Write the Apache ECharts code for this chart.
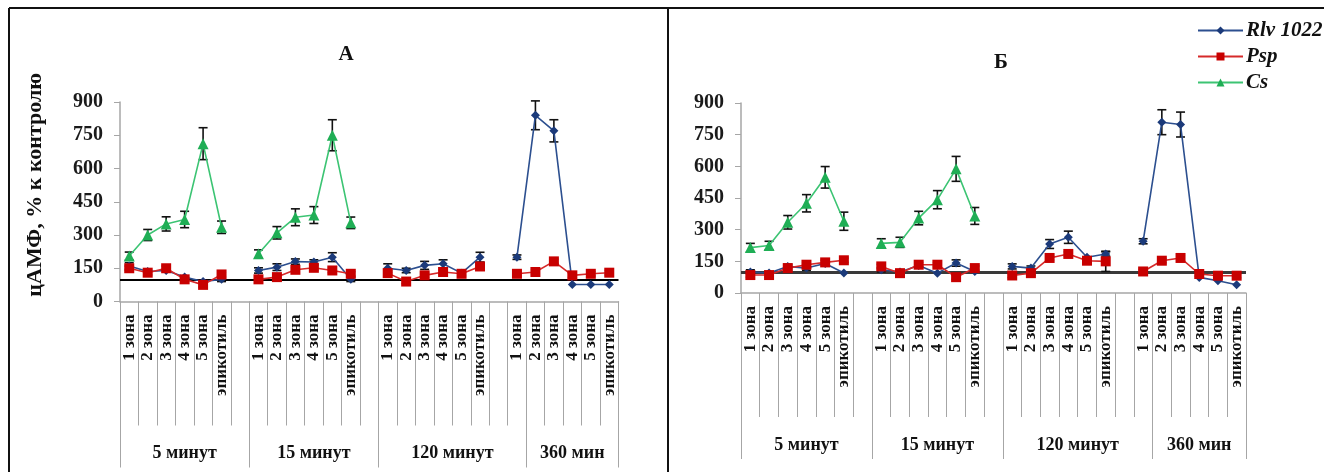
<!DOCTYPE html>
<html>
<head>
<meta charset="utf-8">
<script src="https://cdn.jsdelivr.net/npm/echarts@6/dist/echarts.min.js"></script>
<style>
html,body{margin:0;padding:0;background:#fff;}
#chart{width:1324px;height:472px;}
</style>
</head>
<body>
<div id="chart"></div>
<script>
// ---------- DATA ----------
const zones = ['1 зона', '2 зона', '3 зона', '4 зона', '5 зона', 'эпикотиль'];
const times = ['5 минут', '15 минут', '120 минут', '360 мин'];
const seriesNames = ['Rlv 1022', 'Psp', 'Cs'];
const panelTitles = ['А', 'Б'];
const yTicks = [0, 150, 300, 450, 600, 750, 900];
const control = 100;

// Panel А  (groups: 5 мин, 15 мин, 120 мин, 360 мин)
const rlvA = [[160, 135, 140, 110, 90, 100], [140, 155, 180, 178, 200, 100], [150, 140, 163, 170, 128, 200], [200, 840, 770, 77, 77, 77]];
const rlvAerr = [[15, 0, 0, 0, 0, 10], [12, 15, 12, 10, 20, 10], [20, 10, 18, 18, 0, 22], [10, 65, 50, 0, 0, 0]];
const pspA = [[150, 130, 150, 100, 75, 122], [100, 110, 143, 152, 140, 125], [128, 90, 118, 133, 125, 158], [125, 133, 181, 118, 125, 130]];
const pspAerr = [[10, 10, 10, 10, 10, 10], [10, 10, 10, 10, 10, 10], [10, 10, 10, 10, 10, 10], [10, 10, 10, 10, 10, 10]];
const csA = [[205, 300, 350, 370, 712, 335], [215, 310, 380, 390, 750, 355], [null, null, null, null, null, null], [null, null, null, null, null, null]];
const csAerr = [[18, 25, 32, 37, 72, 28], [18, 28, 38, 38, 70, 26], [0, 0, 0, 0, 0, 0], [0, 0, 0, 0, 0, 0]];

// Panel Б
const rlvB = [[100, 95, 126, 118, 140, 95], [110, 100, 130, 94, 142, 102], [126, 118, 232, 264, 169, 185], [245, 809, 798, 74, 58, 39]];
const rlvBerr = [[10, 0, 10, 10, 0, 0], [10, 0, 0, 0, 15, 0], [12, 10, 21, 29, 0, 10], [12, 59, 59, 0, 0, 0]];
const pspB = [[85, 85, 118, 134, 145, 155], [126, 94, 134, 134, 75, 118], [83, 94, 166, 185, 153, 150], [102, 153, 166, 90, 82, 82]];
const pspBerr = [[10, 10, 10, 10, 10, 10], [10, 10, 10, 10, 10, 10], [10, 10, 10, 10, 10, 48], [10, 10, 10, 10, 10, 10]];
const csB = [[215, 225, 335, 425, 548, 340], [235, 240, 355, 442, 588, 365], [null, null, null, null, null, null], [null, null, null, null, null, null]];
const csBerr = [[20, 20, 32, 41, 51, 43], [22, 24, 32, 43, 59, 40], [0, 0, 0, 0, 0, 0], [0, 0, 0, 0, 0, 0]];

// ---------- BUILD ----------
const FONT = "'Liberation Serif', 'Times New Roman', serif";
const GRAY = '#a6a6a6';
const colors = ['#1b3a7a', '#c80000', '#1fae55'];
const lineColors = ['#2c4f8f', '#d62a2a', '#3cc473'];
const symbols = ['diamond', 'rect', 'triangle'];
const symbolSizes = [9, 10, 11];

// group label spans (in slots) as laid out in the original multi-level axis
const groupSpans = [7, 7, 8, 5];

function flat(groups, filler) {
  const out = [];
  groups.forEach((g, gi) => {
    g.forEach(v => out.push(v));
    if (gi < groups.length - 1) out.push(filler);
  });
  return out;
}
const slotLabels = flat(times.map(() => zones), '');
const nSlots = slotLabels.length;

// group axis: half-slot points (boundaryGap false)
const halfPts = nSlots * 2 + 1;
const groupAxisData = new Array(halfPts).fill('');
const boundarySet = new Set([0]);
let acc = 0;
groupSpans.forEach((s, i) => {
  groupAxisData[acc * 2 + s] = times[i];
  acc += s;
  boundarySet.add(acc * 2);
});

const grids = [
  { left: 120, top: 102, width: 498.5, height: 199.5 },
  { left: 741, top: 103, width: 505, height: 190 }
];

const panels = [
  { vals: [rlvA, pspA, csA], errs: [rlvAerr, pspAerr, csAerr], ctrl: { color: '#000', width: 2 } },
  { vals: [rlvB, pspB, csB], errs: [rlvBerr, pspBerr, csBerr], ctrl: { color: '#3a3a3a', width: 3 } }
];

const xAxes = [], yAxes = [], series = [];
panels.forEach((p, pi) => {
  xAxes.push({
    type: 'category', gridIndex: pi, data: slotLabels, position: 'bottom', boundaryGap: true,
    axisLine: { show: true, lineStyle: { color: GRAY, width: 1.5 } },
    axisTick: { show: true, interval: 0, length: 124, lineStyle: { color: GRAY, width: 1 } },
    axisLabel: { interval: 0, rotate: 90, margin: 13, fontFamily: FONT, fontWeight: 'bold', fontSize: 17, color: '#111' },
    splitLine: { show: false }
  });
  xAxes.push({
    type: 'category', gridIndex: pi, data: groupAxisData, position: 'bottom', offset: 0, boundaryGap: false,
    axisLine: { show: false },
    axisTick: { show: true, interval: (i) => boundarySet.has(i), length: 166, lineStyle: { color: GRAY, width: 1 } },
    axisLabel: { interval: 0, margin: 143, fontFamily: FONT, fontWeight: 'bold', fontSize: 18, color: '#111' },
    splitLine: { show: false }
  });
  yAxes.push({
    type: 'value', gridIndex: pi, min: yTicks[0], max: yTicks[yTicks.length - 1], interval: yTicks[1] - yTicks[0],
    axisLine: { show: true, lineStyle: { color: GRAY, width: 1.5 } },
    axisTick: { show: true, length: 6, lineStyle: { color: GRAY } },
    axisLabel: { margin: 17, fontFamily: FONT, fontWeight: 'bold', fontSize: 20, color: '#1a1a1a' },
    splitLine: { show: false },
    name: pi === 0 ? 'цАМФ, % к контролю' : '',
    nameLocation: 'middle', nameRotate: 90, nameGap: 74,
    nameTextStyle: { fontFamily: FONT, fontWeight: 'bold', fontSize: 22, color: '#111', padding: [0, 0, 0, 34] }
  });

  const xIdx = pi * 2;
  // error bars first (drawn under markers)
  p.vals.forEach((groups, si) => {
    const v = flat(groups, null);
    const e = flat(p.errs[si], 0);
    const data = [];
    v.forEach((val, i) => { if (val != null && e[i] > 0) data.push([i, val, e[i]]); });
    series.push({
      type: 'custom', name: 'err' + pi + si, xAxisIndex: xIdx, yAxisIndex: pi, z: 2, silent: true,
      encode: { x: 0, y: 1 },
      data: data,
      renderItem: (params, api) => {
        const x = api.value(0), val = api.value(1), er = api.value(2);
        const top = api.coord([x, val + er]);
        const bot = api.coord([x, val - er]);
        const w = 4.5;
        const st = { stroke: '#111', lineWidth: 1.6 };
        return {
          type: 'group', children: [
            { type: 'line', shape: { x1: top[0], y1: top[1], x2: bot[0], y2: bot[1] }, style: st },
            { type: 'line', shape: { x1: top[0] - w, y1: top[1], x2: top[0] + w, y2: top[1] }, style: st },
            { type: 'line', shape: { x1: bot[0] - w, y1: bot[1], x2: bot[0] + w, y2: bot[1] }, style: st }
          ]
        };
      }
    });
  });
  p.vals.forEach((groups, si) => {
    const s = {
      type: 'line', name: seriesNames[si], xAxisIndex: xIdx, yAxisIndex: pi, z: 3,
      data: flat(groups, null), connectNulls: false,
      symbol: symbols[si], symbolSize: symbolSizes[si], showSymbol: true,
      itemStyle: { color: colors[si] },
      lineStyle: { color: lineColors[si], width: 1.6 },
      animation: false
    };
    if (si === 0) {
      s.markLine = {
        silent: true, symbol: ['none', 'none'], label: { show: false }, z: 1,
        lineStyle: { color: p.ctrl.color, width: p.ctrl.width, type: 'solid' },
        data: [{ yAxis: control }]
      };
    }
    series.push(s);
  });
});

const option = {
  backgroundColor: '#fff',
  animation: false,
  title: [
    { text: panelTitles[0], left: 341, top: 39, textAlign: 'center', textStyle: { fontFamily: FONT, fontWeight: 'bold', fontSize: 21, color: '#111' } },
    { text: panelTitles[1], left: 996, top: 47, textAlign: 'center', textStyle: { fontFamily: FONT, fontWeight: 'bold', fontSize: 21, color: '#111' } }
  ],
  legend: {
    data: seriesNames, orient: 'vertical', left: 1192, top: 15, itemWidth: 45, itemHeight: 10, itemGap: 5,
    textStyle: { fontFamily: FONT, fontStyle: 'italic', fontWeight: 'bold', fontSize: 21, color: '#111', padding: [0, 0, 0, -2] }
  },
  grid: grids,
  xAxis: xAxes,
  yAxis: yAxes,
  series: series,
  graphic: [
    { type: 'line', silent: true, shape: { x1: 9, y1: 8, x2: 1324, y2: 8 }, style: { stroke: '#111', lineWidth: 2 } },
    { type: 'line', silent: true, shape: { x1: 9, y1: 8, x2: 9, y2: 472 }, style: { stroke: '#111', lineWidth: 2 } },
    { type: 'line', silent: true, shape: { x1: 668, y1: 8, x2: 668, y2: 472 }, style: { stroke: '#111', lineWidth: 2 } }
  ]
};

const chart = echarts.init(document.getElementById('chart'), null, { renderer: 'canvas' });
chart.setOption(option);
</script>
</body>
</html>
